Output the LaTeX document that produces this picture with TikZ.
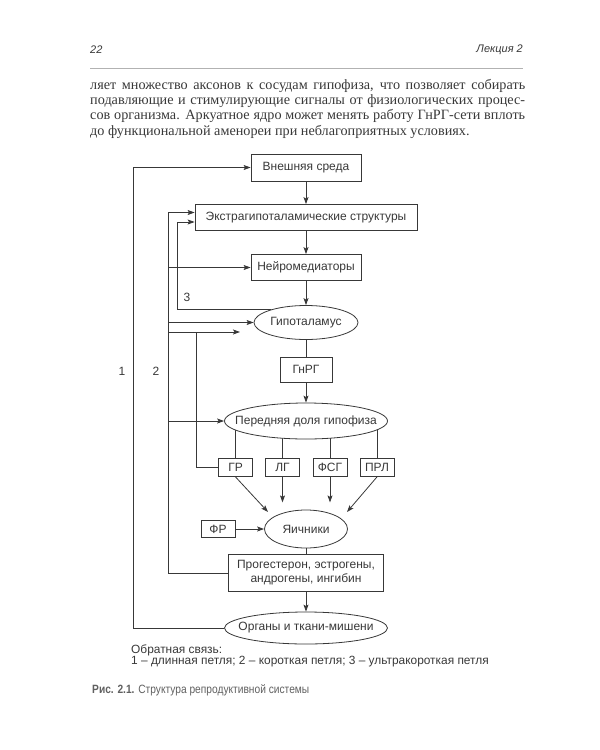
\documentclass[tikz,border=0pt]{standalone}
\usepackage{fontspec}
\setmainfont{Liberation Serif}
\setsansfont{Liberation Sans}
\newfontfamily\capfont{Liberation Sans}[FakeStretch=0.85]
\usetikzlibrary{shapes.geometric, arrows, arrows.meta, positioning}
\definecolor{ink}{gray}{0.22}
\tikzstyle{box} = [
  rectangle,
  minimum width=110pt,
  minimum height=26pt,
  inner sep=0pt,
  text centered,
  draw=ink,
  text=ink,
  line width=0.8pt,
  font=\sffamily\fontsize{12}{14}\selectfont
]
\tikzstyle{smallbox} = [box, minimum width=34pt, minimum height=18pt]
\tikzstyle{oval} = [
  ellipse,
  minimum width=104pt,
  minimum height=34pt,
  inner xsep=-14pt,
  inner ysep=0pt,
  text centered,
  draw=ink,
  fill=white,
  text=ink,
  line width=0.8pt,
  font=\sffamily\fontsize{12}{14}\selectfont
]
\tikzstyle{arrow} = [draw=ink, line width=0.8pt, -{Stealth[length=7pt, width=5pt, inset=1.5pt]}]
\tikzstyle{line} = [draw=ink, line width=0.8pt]
\tikzstyle{loopnum} = [text=ink, inner sep=0pt, font=\sffamily\fontsize{12}{14}\selectfont]
\tikzstyle{note} = [anchor=west, text=ink, inner sep=0pt, font=\sffamily\fontsize{11.9}{13}\selectfont]
\pgfdeclarelayer{background}
\pgfsetlayers{background,main}

\begin{document}
\begin{tikzpicture}[x=1pt, y=-1pt, node distance=50pt]
    \useasboundingbox (0,0) rectangle (600,750);

    % page head and text
    \node (page-num) [anchor=west, text=ink, inner sep=0pt, font=\sffamily\itshape\fontsize{11}{13}\selectfont] at (90,50) {22};
    \node (page-head) [anchor=east, text=ink, inner sep=0pt, font=\sffamily\itshape\fontsize{11}{13}\selectfont] at (523,50) {Лекция 2};
    \draw [gray!60, line width=0.6pt] (90,68) -- (523,68);
    \node (body) [anchor=north west, text width=435pt, align=justify, inner sep=0pt, text=ink, font=\rmfamily\fontsize{14.2}{15.3}\selectfont] at (90,79)
      {ляет множество аксонов к сосудам гипофиза, что позволяет собирать\linebreak
       подавляющие и стимулирующие сигналы от физиологических процес-\linebreak
       сов организма. Аркуатное ядро может менять работу ГнРГ-сети вплоть\linebreak
       до функциональной аменореи при неблагоприятных условиях.};

    % main column
    \node (env) [box, minimum height=27pt] at (306,167.5) {Внешняя среда};
    \node (extra) [box, minimum width=222pt, below of=env] {Экстрагипоталамические структуры};
    \node (neuro) [box, below of=extra] {Нейромедиаторы};
    \node (hypo) [oval, below of=neuro, yshift=-5pt] {Гипоталамус};
    \node (gnrg) [box, minimum width=52pt, minimum height=25pt, below of=hypo, yshift=3pt] {ГнРГ};
    \node (pit) [oval, minimum width=163pt, minimum height=36pt, below of=gnrg, yshift=-1.5pt] {Передняя доля гипофиза};
    \node (lg) [smallbox, below of=pit, xshift=-23.5pt, yshift=3.5pt] {ЛГ};
    \node (gr) [smallbox, left of=lg, node distance=47pt] {ГР};
    \node (fsg) [smallbox, right of=lg, node distance=47.5pt] {ФСГ};
    \node (prl) [smallbox, right of=fsg, node distance=47pt] {ПРЛ};
    \node (ovary) [oval, minimum width=83pt, minimum height=38pt, below of=pit, yshift=-58pt] {Яичники};
    \node (fr) [smallbox, minimum height=17pt, left of=ovary, xshift=-38pt] {ФР};
    \node (hormones) [box, minimum width=155pt, minimum height=37pt, align=center, below of=ovary, yshift=6pt] {Прогестерон, эстрогены,\\андрогены, ингибин};
    \node (organs) [oval, minimum width=163pt, minimum height=32pt, below of=hormones, yshift=-5pt] {Органы и ткани-мишени};

    % loop lines and free arrow ends
    \coordinate (loop1) at (133,0);
    \coordinate (loop2) at (168,0);
    \coordinate (loop3) at (177,0);
    \coordinate (gr-loop) at (196,0);
    \coordinate (hypo-side) at (240,332);
    \coordinate (gr-tip) at (268,512);
    \coordinate (lg-tip) at ([yshift=-25.5pt]lg.south);
    \coordinate (fsg-tip) at ([yshift=-25.5pt]fsg.south);
    \coordinate (prl-tip) at (347,512);

    \draw [arrow] (env) -- (extra);
    \draw [arrow] (extra) -- (neuro);
    \draw [arrow] (neuro) -- (hypo);
    \draw [line] (hypo) -- (gnrg);
    \draw [arrow] (gnrg) -- (pit);
    \begin{pgfonlayer}{background}
      \draw [line] (gr.north |- pit.center) -- (gr.north);
      \draw [line] (lg.north |- pit.center) -- (lg.north);
      \draw [line] (fsg.north |- pit.center) -- (fsg.north);
      \draw [line] (prl.north |- pit.center) -- (prl.north);
    \end{pgfonlayer}
    \draw [arrow] (gr.south) -- (gr-tip);
    \draw [arrow] (lg.south) -- (lg-tip);
    \draw [arrow] (fsg.south) -- (fsg-tip);
    \draw [arrow] (prl.south) -- (prl-tip);
    \draw [arrow] (fr) -- (ovary);
    \draw [line] (ovary) -- (hormones);
    \draw [arrow] (hormones) -- (organs);

    % feedback loops
    \draw [arrow] (organs.west) -| (loop1 |- env.west) -- (env.west);
    \draw [arrow] (hormones.west) -| ([yshift=5pt]loop2 |- extra.west) -- ([yshift=5pt]extra.west);
    \draw [arrow] (loop2 |- neuro.west) -- (neuro.west);
    \draw [arrow] (loop2 |- hypo.west) -- (hypo.west);
    \draw [arrow] (loop2 |- hypo-side) -- (hypo-side);
    \draw [arrow] (loop2 |- pit.west) -- (pit.west);
    \draw [line] (gr.west) -| (gr-loop |- hypo-side);
    \draw [arrow] (hypo.160) -| ([yshift=-4.5pt]loop3 |- extra.west) -- ([yshift=-4.5pt]extra.west);

    \node (num1) [loopnum] at (122,371) {1};
    \node (num2) [loopnum] at (156,371) {2};
    \node (num3) [loopnum] at (187,297) {3};

    % legend and caption
    \node (legend) [note] at (131,650) {Обратная связь:};
    \node (legend-keys) [note] at (131,662) {1 – длинная петля; 2 – короткая петля; 3 – ультракороткая петля};
    \node (caption) [anchor=west, text=ink!80, inner sep=0pt, font=\capfont\fontsize{12}{14}\selectfont] at (92,690) {\textbf{Рис. 2.1.} Структура репродуктивной системы};
  \end{tikzpicture}
\end{document}
